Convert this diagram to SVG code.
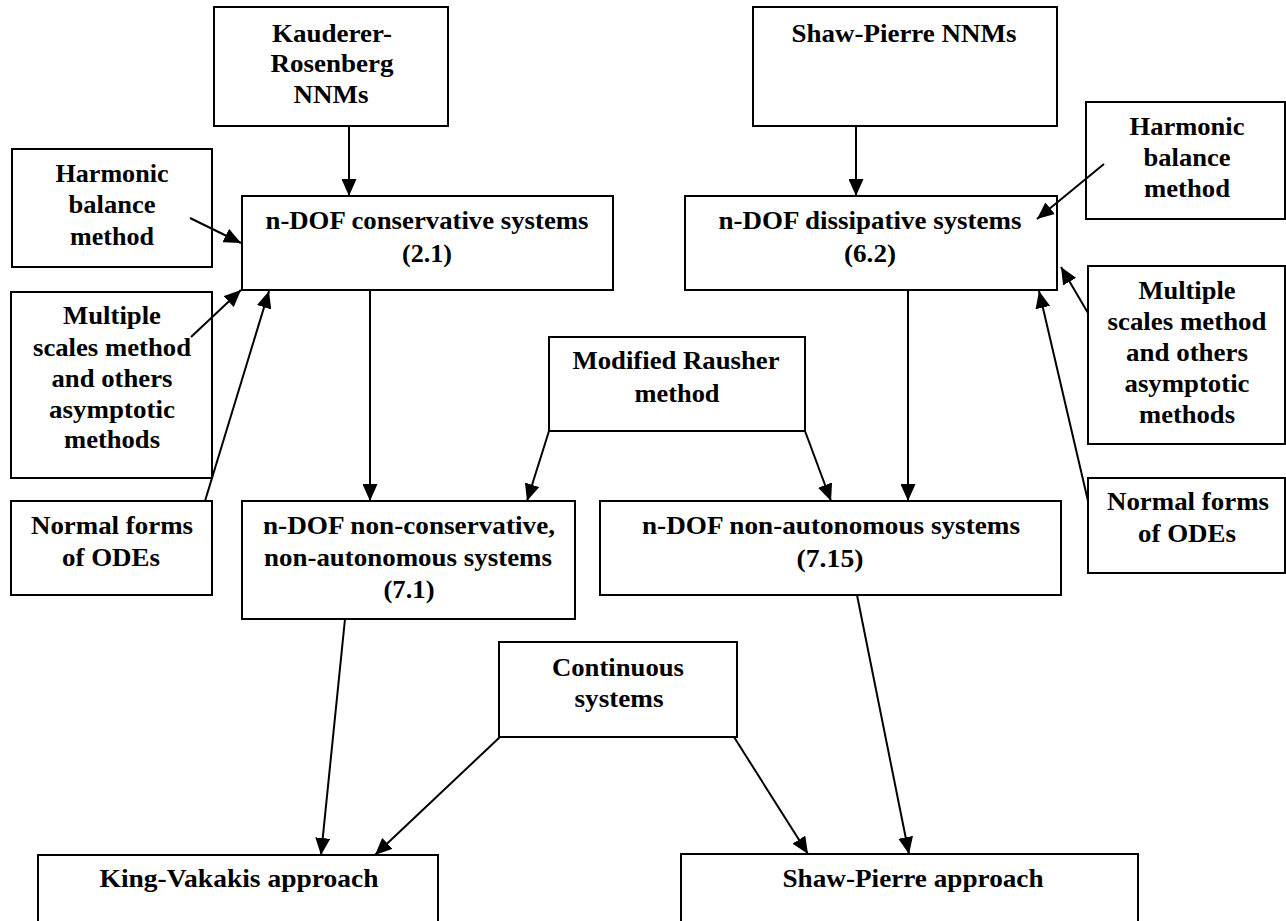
<svg xmlns="http://www.w3.org/2000/svg" width="1286" height="921" viewBox="0 0 1286 921">
<style>
rect.b{fill:#fff;stroke:#000;stroke-width:2}
text{font-family:"Liberation Serif","Times New Roman",serif;font-weight:bold;font-size:26px;text-anchor:middle;fill:#000}
.c line{stroke:#000;stroke-width:2}
</style>
<defs>
<marker id="a" viewBox="0 0 17 15" refX="17" refY="7.5" markerWidth="17" markerHeight="15" markerUnits="userSpaceOnUse" orient="auto">
<path d="M0,0 L17,7.5 L0,15 Z" fill="#000"/>
</marker>
</defs>
<rect width="1286" height="921" fill="#fff"/>
<g id="kauderer"><rect class="b" x="214" y="7" width="234" height="119"/><text x="332" y="42" textLength="120" lengthAdjust="spacingAndGlyphs">Kauderer-</text><text x="332" y="72" textLength="123" lengthAdjust="spacingAndGlyphs">Rosenberg</text><text x="331" y="103" textLength="75" lengthAdjust="spacingAndGlyphs">NNMs</text></g>
<g id="shawNNM"><rect class="b" x="753" y="7" width="304" height="119"/><text x="904" y="42" textLength="225" lengthAdjust="spacingAndGlyphs">Shaw-Pierre NNMs</text></g>
<g id="harmL"><rect class="b" x="12" y="149" width="200" height="118"/><text x="112" y="182" textLength="113" lengthAdjust="spacingAndGlyphs">Harmonic</text><text x="112" y="213" textLength="87" lengthAdjust="spacingAndGlyphs">balance</text><text x="112" y="245" textLength="84" lengthAdjust="spacingAndGlyphs">method</text></g>
<g id="harmR"><rect class="b" x="1086" y="102" width="199" height="117"/><text x="1187" y="135" textLength="115" lengthAdjust="spacingAndGlyphs">Harmonic</text><text x="1187" y="166" textLength="87" lengthAdjust="spacingAndGlyphs">balance</text><text x="1187" y="197" textLength="86" lengthAdjust="spacingAndGlyphs">method</text></g>
<g id="cons"><rect class="b" x="242" y="196" width="371" height="94"/><text x="427" y="229" textLength="323" lengthAdjust="spacingAndGlyphs">n-DOF conservative systems</text><text x="427" y="262" textLength="50" lengthAdjust="spacingAndGlyphs">(2.1)</text></g>
<g id="diss"><rect class="b" x="685" y="196" width="372" height="94"/><text x="870" y="229" textLength="303" lengthAdjust="spacingAndGlyphs">n-DOF dissipative systems</text><text x="870" y="262" textLength="52" lengthAdjust="spacingAndGlyphs">(6.2)</text></g>
<g id="multL"><rect class="b" x="11" y="292" width="201" height="186"/><text x="112" y="324" textLength="98" lengthAdjust="spacingAndGlyphs">Multiple</text><text x="112" y="356" textLength="158" lengthAdjust="spacingAndGlyphs">scales method</text><text x="112" y="387" textLength="121" lengthAdjust="spacingAndGlyphs">and others</text><text x="112" y="418" textLength="126" lengthAdjust="spacingAndGlyphs">asymptotic</text><text x="112" y="448" textLength="96" lengthAdjust="spacingAndGlyphs">methods</text></g>
<g id="multR"><rect class="b" x="1088" y="266" width="197" height="178"/><text x="1187" y="299" textLength="97" lengthAdjust="spacingAndGlyphs">Multiple</text><text x="1187" y="330" textLength="159" lengthAdjust="spacingAndGlyphs">scales method</text><text x="1187" y="361" textLength="122" lengthAdjust="spacingAndGlyphs">and others</text><text x="1187" y="392" textLength="125" lengthAdjust="spacingAndGlyphs">asymptotic</text><text x="1187" y="423" textLength="96" lengthAdjust="spacingAndGlyphs">methods</text></g>
<g id="rausher"><rect class="b" x="549" y="337" width="256" height="94"/><text x="676" y="369" textLength="207" lengthAdjust="spacingAndGlyphs">Modified Rausher</text><text x="677" y="402" textLength="85" lengthAdjust="spacingAndGlyphs">method</text></g>
<g id="normL"><rect class="b" x="11" y="501" width="201" height="94"/><text x="112" y="534" textLength="162" lengthAdjust="spacingAndGlyphs">Normal forms</text><text x="111" y="566" textLength="98" lengthAdjust="spacingAndGlyphs">of ODEs</text></g>
<g id="normR"><rect class="b" x="1088" y="478" width="197" height="95"/><text x="1188" y="510" textLength="162" lengthAdjust="spacingAndGlyphs">Normal forms</text><text x="1187" y="542" textLength="98" lengthAdjust="spacingAndGlyphs">of ODEs</text></g>
<g id="noncons"><rect class="b" x="242" y="501" width="333" height="118"/><text x="409" y="534" textLength="292" lengthAdjust="spacingAndGlyphs">n-DOF non-conservative,</text><text x="408" y="566" textLength="288" lengthAdjust="spacingAndGlyphs">non-autonomous systems</text><text x="409" y="598" textLength="51" lengthAdjust="spacingAndGlyphs">(7.1)</text></g>
<g id="nonauto"><rect class="b" x="600" y="501" width="461" height="94"/><text x="831" y="534" textLength="378" lengthAdjust="spacingAndGlyphs">n-DOF non-autonomous systems</text><text x="830" y="567" textLength="67" lengthAdjust="spacingAndGlyphs">(7.15)</text></g>
<g id="cont"><rect class="b" x="499" y="642" width="238" height="95"/><text x="618" y="676" textLength="132" lengthAdjust="spacingAndGlyphs">Continuous</text><text x="619" y="707" textLength="89" lengthAdjust="spacingAndGlyphs">systems</text></g>
<g id="king"><rect class="b" x="38" y="855" width="400" height="80"/><text x="239" y="887" textLength="279" lengthAdjust="spacingAndGlyphs">King-Vakakis approach</text></g>
<g id="shawA"><rect class="b" x="681" y="854" width="457" height="80"/><text x="913" y="887" textLength="261" lengthAdjust="spacingAndGlyphs">Shaw-Pierre approach</text></g>
<g id="connectors" class="c">
<line x1="349" y1="126" x2="349" y2="196" marker-end="url(#a)"/>
<line x1="856" y1="126" x2="856" y2="196" marker-end="url(#a)"/>
<line x1="190" y1="218" x2="241" y2="243" marker-end="url(#a)"/>
<line x1="191" y1="337" x2="241" y2="290" marker-end="url(#a)"/>
<line x1="205" y1="501" x2="269" y2="291" marker-end="url(#a)"/>
<line x1="1104" y1="164" x2="1037" y2="219" marker-end="url(#a)"/>
<line x1="1088" y1="313" x2="1061" y2="267" marker-end="url(#a)"/>
<line x1="1088" y1="501" x2="1039" y2="291" marker-end="url(#a)"/>
<line x1="370" y1="290" x2="370" y2="501" marker-end="url(#a)"/>
<line x1="908" y1="290" x2="908" y2="501" marker-end="url(#a)"/>
<line x1="549" y1="431" x2="527" y2="501" marker-end="url(#a)"/>
<line x1="805" y1="431" x2="831" y2="501" marker-end="url(#a)"/>
<line x1="345" y1="619" x2="321" y2="855" marker-end="url(#a)"/>
<line x1="500" y1="737" x2="375" y2="855" marker-end="url(#a)"/>
<line x1="734" y1="737" x2="808" y2="854" marker-end="url(#a)"/>
<line x1="857" y1="595" x2="909" y2="854" marker-end="url(#a)"/>
</g>
</svg>
